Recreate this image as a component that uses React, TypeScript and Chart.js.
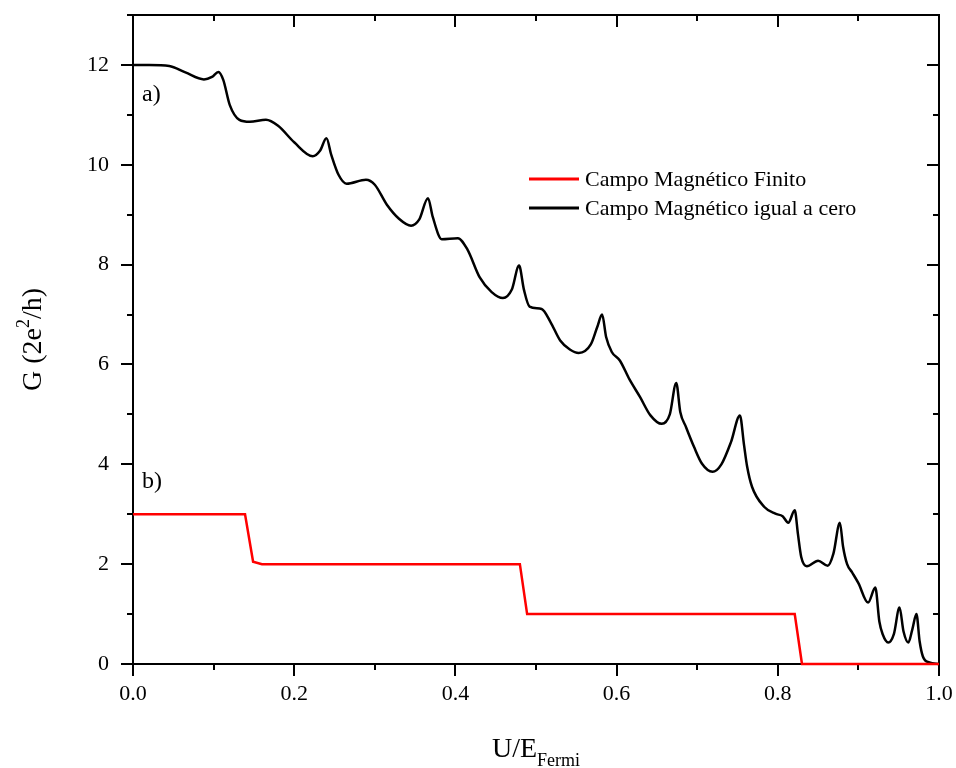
import React, { useEffect, useRef } from "react";
import { Chart, registerables } from "chart.js";

Chart.register(...registerables);

const FONT = "'Liberation Serif', 'Times New Roman', serif";

// Black curve: zero magnetic field
const zeroFieldX = [
  0.0, 0.02, 0.045, 0.065, 0.088, 0.098, 0.106, 0.112, 0.12, 0.132, 0.145, 0.165, 0.18, 0.2, 0.223, 0.232,
  0.24, 0.246, 0.255, 0.265, 0.289, 0.3, 0.315, 0.33, 0.345, 0.355, 0.366, 0.372, 0.383, 0.403, 0.415,
  0.43, 0.445, 0.459, 0.47, 0.479, 0.485, 0.492, 0.507, 0.518, 0.53, 0.542, 0.553, 0.568, 0.576, 0.582,
  0.587, 0.594, 0.604, 0.616, 0.629, 0.642, 0.656, 0.666, 0.674, 0.679, 0.686, 0.696, 0.706, 0.719,
  0.73, 0.742, 0.753, 0.758, 0.762, 0.768, 0.783, 0.797, 0.806, 0.813, 0.821, 0.825, 0.829, 0.836, 0.85,
  0.862, 0.869, 0.877, 0.881, 0.886, 0.892, 0.9, 0.912, 0.921, 0.926, 0.93, 0.937, 0.944, 0.951, 0.956,
  0.962, 0.967, 0.972, 0.976, 0.98, 0.988, 1.0,
];
const zeroFieldY = [
  12.0, 12.0, 11.98, 11.85, 11.71, 11.76, 11.86, 11.7, 11.2, 10.9, 10.86, 10.9, 10.78, 10.45, 10.17, 10.28,
  10.53, 10.2, 9.8, 9.62, 9.7, 9.6, 9.2, 8.92, 8.78, 8.9, 9.33, 8.95, 8.51, 8.53, 8.3,
  7.75, 7.45, 7.33, 7.5, 7.98, 7.5, 7.16, 7.11, 6.85, 6.48, 6.3, 6.23, 6.4, 6.75, 7.0,
  6.55, 6.25, 6.08, 5.7, 5.35, 4.98, 4.81, 5.0, 5.63, 5.05, 4.75, 4.35, 4.01, 3.85,
  4.0, 4.45, 4.98, 4.4, 3.95, 3.55, 3.15, 3.01, 2.96, 2.83, 3.08, 2.6, 2.15, 1.96, 2.07,
  1.97, 2.21, 2.83, 2.35, 2.0, 1.84, 1.62, 1.23, 1.53, 0.85, 0.6, 0.43, 0.6, 1.13, 0.65,
  0.43, 0.7, 1.0, 0.45, 0.15, 0.03, 0.0,
];

// Red curve: finite magnetic field
const finiteFieldX = [0.0, 0.139, 0.149, 0.16, 0.48, 0.489, 0.821, 0.83, 1.0];
const finiteFieldY = [3, 3, 2.05, 2, 2, 1, 1, 0, 0];

const seriesLabels = ["Campo Magnético Finito", "Campo Magnético igual a cero"];
const seriesColors = ["#ff0000", "#000000"];
const panelLabels = ["a)", "b)"];
const xTickStep = 0.1;
const yTickStep = 1;

const toPoints = (xs: number[], ys: number[]) => xs.map((x, i) => ({ x, y: ys[i] }));

const framePlugin = {
  id: "frame",
  beforeDatasetsDraw(chart: any) {
    const { ctx, chartArea, scales } = chart;
    const { left, right, top, bottom } = chartArea;
    ctx.save();
    ctx.strokeStyle = "#000";
    ctx.lineWidth = 2;
    ctx.strokeRect(left, top, right - left, bottom - top);
    ctx.beginPath();
    const xs = scales.x;
    for (let i = 0; i <= 10; i++) {
      const v = i * xTickStep;
      const px = Math.round(xs.getPixelForValue(v));
      const len = i % 2 === 0 ? 12 : 6;
      ctx.moveTo(px, bottom);
      ctx.lineTo(px, bottom + len);
      ctx.moveTo(px, top);
      ctx.lineTo(px, top + len);
    }
    const ys = scales.y;
    for (let i = 0; i <= 13; i++) {
      const v = i * yTickStep;
      const py = Math.round(ys.getPixelForValue(v));
      const len = i % 2 === 0 ? 12 : 6;
      ctx.moveTo(left, py);
      ctx.lineTo(left - len, py);
      ctx.moveTo(right, py);
      ctx.lineTo(right - len, py);
    }
    ctx.stroke();
    ctx.restore();
  },
  afterDraw(chart: any) {
    const { ctx, chartArea, scales } = chart;
    const { left, right, top, bottom } = chartArea;
    ctx.save();
    ctx.fillStyle = "#000";
    ctx.textBaseline = "alphabetic";

    // X title U/E_Fermi
    ctx.font = `28px ${FONT}`;
    const main = "U/E";
    const wMain = ctx.measureText(main).width;
    ctx.font = `18px ${FONT}`;
    const sub = "Fermi";
    const wSub = ctx.measureText(sub).width;
    const cx = (left + right) / 2;
    const startX = cx - (wMain + wSub) / 2;
    ctx.font = `28px ${FONT}`;
    ctx.fillText(main, startX, 757);
    ctx.font = `18px ${FONT}`;
    ctx.fillText(sub, startX + wMain, 766);

    // Y title G (2e^2/h)
    ctx.save();
    const cy = (top + bottom) / 2;
    ctx.translate(41, cy);
    ctx.rotate(-Math.PI / 2);
    const p1 = "G (2e";
    const p2 = "2";
    const p3 = "/h)";
    ctx.font = `28px ${FONT}`;
    const w1 = ctx.measureText(p1).width;
    const w3 = ctx.measureText(p3).width;
    ctx.font = `18px ${FONT}`;
    const w2 = ctx.measureText(p2).width;
    let x0 = -(w1 + w2 + w3) / 2;
    ctx.font = `28px ${FONT}`;
    ctx.fillText(p1, x0, 0);
    x0 += w1;
    ctx.font = `18px ${FONT}`;
    ctx.fillText(p2, x0, -12);
    x0 += w2;
    ctx.font = `28px ${FONT}`;
    ctx.fillText(p3, x0, 0);
    ctx.restore();

    // Panel labels
    ctx.font = `24px ${FONT}`;
    ctx.fillText(panelLabels[0], left + 9, scales.y.getPixelForValue(11.28));
    ctx.fillText(panelLabels[1], left + 9, scales.y.getPixelForValue(3.52));

    // Legend
    const ds = chart.data.datasets;
    ds.forEach((d: any, i: number) => {
      const ly = 179 + i * 29;
      ctx.strokeStyle = d.borderColor;
      ctx.lineWidth = 3;
      ctx.beginPath();
      ctx.moveTo(529, ly);
      ctx.lineTo(579, ly);
      ctx.stroke();
      ctx.font = `22px ${FONT}`;
      ctx.textBaseline = "middle";
      ctx.fillStyle = "#000";
      ctx.fillText(d.label, 585, ly + 1);
    });
    ctx.restore();
  },
};

const zeroPad = (scale: any) => {
  scale.paddingTop = 0;
  scale.paddingBottom = 0;
  scale.paddingLeft = 0;
  scale.paddingRight = 0;
};

export default function App() {
  const canvasRef = useRef<HTMLCanvasElement | null>(null);

  useEffect(() => {
    if (!canvasRef.current) return;
    Chart.defaults.font.family = FONT;
    const chart = new Chart(canvasRef.current, {
      type: "line",
      data: {
        datasets: [
          {
            label: seriesLabels[0],
            data: toPoints(finiteFieldX, finiteFieldY),
            borderColor: seriesColors[0],
            backgroundColor: seriesColors[0],
            borderWidth: 2.5,
            pointRadius: 0,
            tension: 0,
            clip: false as any,
          },
          {
            label: seriesLabels[1],
            data: toPoints(zeroFieldX, zeroFieldY),
            borderColor: seriesColors[1],
            backgroundColor: seriesColors[1],
            borderWidth: 2.5,
            pointRadius: 0,
            cubicInterpolationMode: "monotone",
            clip: false as any,
          },
        ],
      },
      options: {
        animation: false,
        responsive: true,
        maintainAspectRatio: false,
        layout: { padding: { top: 15, right: 17, left: 0, bottom: 0 } },
        plugins: {
          legend: { display: false },
          tooltip: { enabled: false },
        },
        scales: {
          x: {
            type: "linear",
            min: 0,
            max: 1,
            grid: { display: false },
            border: { display: false },
            ticks: {
              stepSize: xTickStep,
              autoSkip: false,
              maxRotation: 0,
              padding: 9,
              color: "#000",
              font: { size: 22, family: FONT },
              callback: (v: any) => (Math.round(Number(v) * 10) % 2 === 0 ? Number(v).toFixed(1) : ""),
            },
            afterFit: (scale: any) => {
              scale.height = 104;
              zeroPad(scale);
            },
          },
          y: {
            type: "linear",
            min: 0,
            max: 13,
            grid: { display: false },
            border: { display: false },
            ticks: {
              stepSize: yTickStep,
              autoSkip: false,
              padding: 16,
              color: "#000",
              font: { size: 22, family: FONT },
              callback: (v: any) => {
                const n = Math.round(Number(v));
                return n % 2 === 0 && n <= 12 ? String(n) : "";
              },
            },
            afterFit: (scale: any) => {
              scale.width = 133;
              zeroPad(scale);
            },
          },
        },
      },
      plugins: [framePlugin],
    });
    return () => chart.destroy();
  }, []);

  return (
    <div style={{ position: "fixed", left: 0, top: 0, width: 956, height: 768, background: "#fff" }}>
      <canvas ref={canvasRef} />
    </div>
  );
}
